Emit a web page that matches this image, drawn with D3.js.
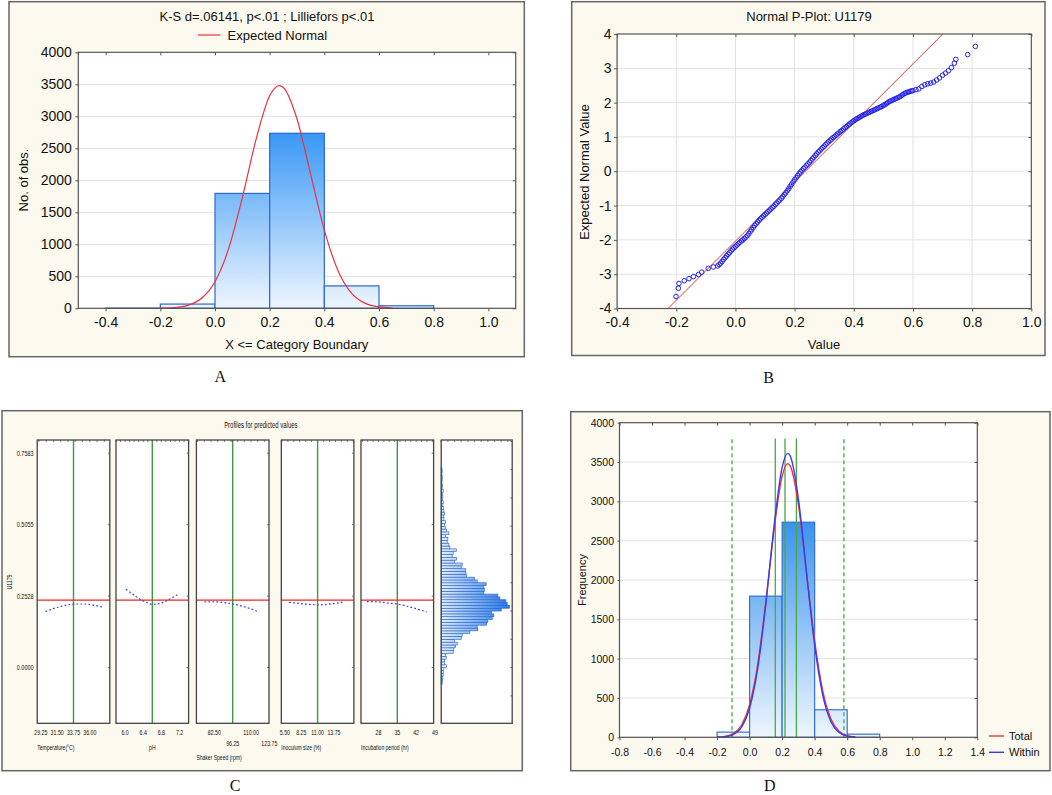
<!DOCTYPE html>
<meta charset="utf-8">
<style>
body { margin: 0; background: #fff; }
text { font-family: "Liberation Sans", Arial, sans-serif; fill: #111; }
</style>
<body>
<script src="https://d3js.org/d3.v7.min.js"></script>
<script>

// ---------- data ----------
// histogram bins shared by A and D (bin width 0.2)
var binStart  = [-0.4, -0.2, 0.0, 0.2, 0.4, 0.6, 0.8];
var binCounts = [3, 66, 1795, 2735, 350, 40, 0];

// expected normal curves
var normX      = [-0.2, -0.15, -0.1, -0.05, 0.0, 0.05, 0.1, 0.15, 0.2, 0.235, 0.25, 0.3, 0.35, 0.4, 0.45, 0.5, 0.55, 0.6, 0.65];
var normTotal  = [3, 12, 46, 153, 416, 932, 1728, 2635, 3320, 3480, 3450, 2958, 2092, 1222, 588, 234, 77, 21, 5];
var normWithin = [2, 8, 35, 126, 369, 878, 1700, 2678, 3432, 3610, 3577, 3033, 2091, 1172, 534, 198, 60, 15, 3];

var histXTicks = [-0.4, -0.2, 0.0, 0.2, 0.4, 0.6, 0.8, 1.0];
var countTicks = [0, 500, 1000, 1500, 2000, 2500, 3000, 3500, 4000];

// normal probability plot
var ppValue = [-0.201, -0.193, -0.191, -0.173, -0.157, -0.142, -0.125, -0.114, -0.092, -0.075,
  -0.06, -0.05, -0.04, -0.03, -0.02, -0.01, 0.0, 0.01, 0.02, 0.03, 0.04, 0.05, 0.06, 0.07, 0.08, 0.09,
  0.10, 0.11, 0.12, 0.13, 0.14, 0.15, 0.16, 0.17, 0.18, 0.19, 0.20, 0.21, 0.22, 0.23, 0.24, 0.25,
  0.26, 0.27, 0.28, 0.29, 0.30, 0.31, 0.32, 0.33, 0.34, 0.35, 0.36, 0.37, 0.38, 0.39, 0.40, 0.41,
  0.42, 0.43, 0.44, 0.45, 0.46, 0.47, 0.48, 0.49, 0.50, 0.51, 0.52, 0.53, 0.54, 0.55, 0.56, 0.57,
  0.58, 0.59, 0.60, 0.61, 0.62, 0.63, 0.64, 0.65, 0.66, 0.67, 0.68, 0.69, 0.70, 0.71, 0.72, 0.73,
  0.74, 0.745, 0.785, 0.811];
var ppZ = [-3.65, -3.41, -3.27, -3.19, -3.13, -3.07, -3.01, -2.94, -2.83, -2.79,
  -2.76, -2.68, -2.57, -2.47, -2.37, -2.27, -2.19, -2.11, -2.03, -1.96, -1.88, -1.76, -1.64, -1.53, -1.43, -1.34,
  -1.26, -1.18, -1.10, -1.02, -0.93, -0.84, -0.74, -0.63, -0.51, -0.38, -0.25, -0.13, -0.02, 0.08, 0.17, 0.26,
  0.36, 0.46, 0.56, 0.65, 0.73, 0.82, 0.90, 0.98, 1.05, 1.12, 1.19, 1.27, 1.34, 1.41, 1.47, 1.53,
  1.58, 1.63, 1.67, 1.71, 1.75, 1.79, 1.83, 1.87, 1.92, 1.97, 2.03, 2.07, 2.11, 2.15, 2.20, 2.26,
  2.30, 2.33, 2.35, 2.38, 2.40, 2.47, 2.52, 2.55, 2.57, 2.60, 2.66, 2.72, 2.80, 2.86, 2.93, 3.02,
  3.15, 3.26, 3.40, 3.64];
var ppValueMid = [-0.055, -0.045, -0.035, -0.025, -0.015, -0.005, 0.005, 0.015, 0.025, 0.035, 0.045, 0.055,
  0.065, 0.075, 0.085, 0.095, 0.105, 0.115, 0.125, 0.135, 0.145, 0.155, 0.165, 0.175, 0.185, 0.195,
  0.205, 0.215, 0.225, 0.235, 0.245, 0.255, 0.265, 0.275, 0.285, 0.295, 0.305, 0.315, 0.325, 0.335,
  0.345, 0.355, 0.365, 0.375, 0.385, 0.395, 0.405, 0.415, 0.425, 0.435, 0.445, 0.455, 0.465, 0.475,
  0.485, 0.495, 0.505, 0.515, 0.525, 0.535, 0.545, 0.555, 0.565, 0.575, 0.585, 0.595];
var ppZMid = [-2.72, -2.63, -2.52, -2.42, -2.32, -2.23, -2.15, -2.07, -2.00, -1.92, -1.82, -1.70,
  -1.58, -1.48, -1.38, -1.30, -1.22, -1.14, -1.06, -0.97, -0.88, -0.79, -0.68, -0.57, -0.44, -0.31,
  -0.19, -0.07, 0.03, 0.12, 0.21, 0.31, 0.41, 0.51, 0.60, 0.69, 0.78, 0.86, 0.94, 1.01,
  1.09, 1.16, 1.23, 1.30, 1.37, 1.44, 1.50, 1.55, 1.60, 1.65, 1.69, 1.73, 1.77, 1.81,
  1.85, 1.89, 1.94, 2.00, 2.05, 2.09, 2.13, 2.17, 2.23, 2.28, 2.31, 2.34];
var refLineValue = [-0.228, 0.701];
var refLineZ = [-4, 4];
var ppXTicks = [-0.4, -0.2, 0.0, 0.2, 0.4, 0.6, 0.8, 1.0];
var ppYTicks = [-4, -3, -2, -1, 0, 1, 2, 3, 4];

// profiles for predicted values
var factorNames = ["Temperature(°C)", "pH", "Shaker Speed (rpm)", "Inoculum size (%)", "Incubation period (hr)"];
var factorTicks = [[29.25, 31.5, 33.75, 36.0], [6.0, 6.4, 6.8, 7.2], [82.5, 96.25, 110.0, 123.75], [5.5, 8.25, 11.0, 13.75], [28, 35, 42, 49]];
var factorTickLabels = [["29.25", "31.50", "33.75", "36.00"], ["6.0", "6.4", "6.8", "7.2"], ["82.50", "96.25", "110.00", "123.75"], ["5.50", "8.25", "11.00", "13.75"], ["28", "35", "42", "49"]];
var factorCurrent = [33.75, 6.6, 96.25, 11.0, 35];
var profileX = [
  [29.9, 30.8, 31.8, 32.6, 33.4, 34.4, 35.3, 36.5, 37.7],
  [6.02, 6.15, 6.3, 6.45, 6.6, 6.75, 6.9, 7.05, 7.18],
  [75, 80, 86, 91, 96.5, 102, 107, 112, 116],
  [6.2, 7.5, 8.75, 10, 11, 12.25, 13.5, 14.5, 15.55],
  [23.7, 26.5, 29.5, 32, 35, 38, 41, 43.5, 45.9]
];
var profileY = [
  [0.198, 0.207, 0.215, 0.220, 0.224, 0.225, 0.225, 0.221, 0.214],
  [0.277, 0.262, 0.245, 0.232, 0.224, 0.226, 0.235, 0.248, 0.261],
  [0.232, 0.233, 0.232, 0.229, 0.225, 0.219, 0.212, 0.204, 0.196],
  [0.231, 0.228, 0.225, 0.223, 0.222, 0.223, 0.226, 0.229, 0.233],
  [0.233, 0.233, 0.231, 0.228, 0.225, 0.219, 0.211, 0.204, 0.197]
];
var predictedMean = 0.2384;
var profileYTicks = [0.0, 0.2528, 0.5055, 0.7583];
var profileYLabels = ["0.0000", "0.2528", "0.5055", "0.7583"];

// histogram of predicted values (bin width 0.01)
var histLo = [-0.06, -0.05, -0.04, -0.03, -0.02, -0.01, 0.00, 0.01, 0.02, 0.03, 0.04, 0.05, 0.06, 0.07, 0.08, 0.09,
  0.10, 0.11, 0.12, 0.13, 0.14, 0.15, 0.16, 0.17, 0.18, 0.19, 0.20, 0.21, 0.22, 0.23, 0.24, 0.25, 0.26, 0.27, 0.28, 0.29,
  0.30, 0.31, 0.32, 0.33, 0.34, 0.35, 0.36, 0.37, 0.38, 0.39, 0.40, 0.41, 0.42, 0.43, 0.44, 0.45, 0.46, 0.47, 0.48, 0.49,
  0.50, 0.51, 0.52, 0.53, 0.54, 0.55, 0.56, 0.57, 0.58, 0.59, 0.60, 0.61, 0.62, 0.63, 0.64, 0.65, 0.66, 0.67, 0.68, 0.69, 0.70];
var histCounts = [3, 4, 5, 6, 6, 8, 16, 10, 10, 15, 13, 36, 38, 43, 48, 40,
  60, 63, 86, 110, 108, 136, 140, 153, 158, 151, 180, 205, 198, 194, 176, 170, 128, 130, 128, 135,
  108, 100, 76, 74, 73, 60, 63, 40, 46, 33, 36, 46, 26, 23, 18, 20, 13, 23, 16, 13,
  10, 13, 8, 8, 10, 8, 7, 5, 6, 4, 5, 4, 6, 3, 4, 2, 3, 3, 2, 3, 2];

// panel D: specification / mean lines
var specX = [-0.108, 0.158, 0.2176, 0.2876, 0.580];
var specDashed = [true, false, false, false, true];
var specTop = 3800;
var dXTicks = [-0.8, -0.6, -0.4, -0.2, 0.0, 0.2, 0.4, 0.6, 0.8, 1.0, 1.2, 1.4];

// ---------- drawing ----------
var svg = d3.select("body").append("svg")
    .attr("width", 1052)
    .attr("height", 795)
    .style("display", "block");

svg.append("rect").attr("width", 1052).attr("height", 795).attr("fill", "#fff");

var defs = svg.append("defs");

function frame(x0, y0, x1, y1) {
  svg.append("rect")
    .attr("x", x0).attr("y", y0)
    .attr("width", x1 - x0).attr("height", y1 - y0)
    .attr("fill", "#fcf9ee")
    .attr("stroke", "#666")
    .attr("stroke-width", 1.5);
}

function plotBg(x, y) {
  svg.append("rect")
    .attr("x", x.range()[0]).attr("y", y.range()[1])
    .attr("width", x.range()[1] - x.range()[0])
    .attr("height", y.range()[0] - y.range()[1])
    .attr("fill", "#fff");
}

function plotBorder(x, y) {
  svg.append("rect")
    .attr("x", x.range()[0]).attr("y", y.range()[1])
    .attr("width", x.range()[1] - x.range()[0])
    .attr("height", y.range()[0] - y.range()[1])
    .attr("fill", "none")
    .attr("stroke", "#555")
    .attr("stroke-width", 1.2);
}

function styleAxis(g, size) {
  g.select(".domain").remove();
  g.selectAll("line").attr("stroke", "#555");
  g.selectAll("text").attr("font-size", size).attr("fill", "#111")
    .style("font-family", "'Liberation Sans', Arial, sans-serif");
}

function fmt1(d) { return d.toFixed(1); }
function fmtInt(d) { return String(d); }

function label(x, y, txt, size, rotate, family) {
  var t = svg.append("text")
    .attr("x", x).attr("y", y)
    .attr("text-anchor", "middle")
    .attr("dominant-baseline", "central")
    .attr("font-size", size)
    .text(txt);
  if (rotate) t.attr("transform", "rotate(-90," + x + "," + y + ")");
  if (family) t.style("font-family", family);
  return t;
}

var serif = "'Liberation Serif', 'Times New Roman', serif";

// ===== Panel A =====
frame(9, 1.7, 524.3, 356.7);
var xA = d3.scaleLinear().domain([-0.5, 1.1]).range([78.3, 515.7]);
var yA = d3.scaleLinear().domain([0, 4000]).range([308.3, 52.3]);
plotBg(xA, yA);

svg.append("g").selectAll("line")
  .data(countTicks.slice(1, -1)).enter().append("line")
    .attr("x1", xA.range()[0]).attr("x2", xA.range()[1])
    .attr("y1", function(d) { return yA(d); }).attr("y2", function(d) { return yA(d); })
    .attr("stroke", "#e2e2e2");

var gradA = defs.append("linearGradient").attr("id", "gradA")
  .attr("gradientUnits", "userSpaceOnUse")
  .attr("x1", 0).attr("x2", 0).attr("y1", yA(2735)).attr("y2", yA(0));
gradA.append("stop").attr("offset", 0).attr("stop-color", "#3a98f6");
gradA.append("stop").attr("offset", 1).attr("stop-color", "#eef6fe");

svg.append("g").selectAll("rect")
  .data(binStart).enter().append("rect")
    .attr("x", function(d) { return xA(d); })
    .attr("width", function(d) { return xA(d + 0.2) - xA(d); })
    .attr("y", function(d, i) { return yA(binCounts[i]); })
    .attr("height", function(d, i) { return yA(0) - yA(binCounts[i]); })
    .attr("fill", "url(#gradA)")
    .attr("stroke", "#2a66d6")
    .attr("stroke-width", 1.2);

var lineA = d3.line()
  .x(function(d, i) { return xA(normX[i]); })
  .y(function(d) { return yA(d); })
  .curve(d3.curveMonotoneX);
svg.append("path").attr("d", lineA(normTotal))
  .attr("fill", "none").attr("stroke", "#e8353a").attr("stroke-width", 1.2);

plotBorder(xA, yA);

styleAxis(svg.append("g").attr("transform", "translate(" + xA.range()[0] + ",0)")
  .call(d3.axisLeft(yA).tickValues(countTicks).tickFormat(fmtInt).tickSize(3).tickPadding(3.5)), "14px");
styleAxis(svg.append("g").attr("transform", "translate(0," + yA.range()[0] + ")")
  .call(d3.axisBottom(xA).tickValues(histXTicks).tickFormat(fmt1).tickSize(3).tickPadding(6)), "14px");
styleAxis(svg.append("g").attr("transform", "translate(0," + yA.range()[1] + ")")
  .call(d3.axisBottom(xA).tickValues(histXTicks).tickFormat("").tickSize(3)), "0px");
styleAxis(svg.append("g").attr("transform", "translate(" + xA.range()[1] + ",0)")
  .call(d3.axisLeft(yA).tickValues(countTicks).tickFormat("").tickSize(3)), "0px");

label(267, 16.7, "K-S d=.06141, p<.01 ; Lilliefors p<.01", "13px");
svg.append("line").attr("x1", 197.8).attr("x2", 220.4).attr("y1", 35).attr("y2", 35)
  .attr("stroke", "#e8353a").attr("stroke-width", 1.2);
svg.append("text").attr("x", 227.5).attr("y", 35).attr("dominant-baseline", "central")
  .attr("font-size", "13px").text("Expected Normal");
label(296.8, 344.3, "X <= Category Boundary", "13px");
label(23.7, 180, "No. of obs.", "13px", true);
label(220.4, 376.7, "A", "16px", false, serif);

// ===== Panel B =====
frame(571.7, 1.7, 1045, 355.5);
var xB = d3.scaleLinear().domain([-0.4, 1.0]).range([617.1, 1031.3]);
var yB = d3.scaleLinear().domain([-4, 4]).range([308.5, 34]);
plotBg(xB, yB);

svg.append("g").selectAll("line")
  .data(ppXTicks.slice(1, -1)).enter().append("line")
    .attr("x1", function(d) { return xB(d); }).attr("x2", function(d) { return xB(d); })
    .attr("y1", yB.range()[0]).attr("y2", yB.range()[1])
    .attr("stroke", "#e2e2e2");
svg.append("g").selectAll("line")
  .data(ppYTicks.slice(1, -1)).enter().append("line")
    .attr("x1", xB.range()[0]).attr("x2", xB.range()[1])
    .attr("y1", function(d) { return yB(d); }).attr("y2", function(d) { return yB(d); })
    .attr("stroke", "#e2e2e2");

svg.append("line")
  .attr("x1", xB(refLineValue[0])).attr("y1", yB(refLineZ[0]))
  .attr("x2", xB(refLineValue[1])).attr("y2", yB(refLineZ[1]))
  .attr("stroke", "#e8353a").attr("stroke-width", 1);

var allPV = ppValue.concat(ppValueMid);
var allPZ = ppZ.concat(ppZMid);
svg.append("g").selectAll("circle")
  .data(allPV).enter().append("circle")
    .attr("cx", function(d) { return xB(d); })
    .attr("cy", function(d, i) { return yB(allPZ[i]); })
    .attr("r", 2.3)
    .attr("fill", "none")
    .attr("stroke", "#2424e8")
    .attr("stroke-width", 1);

plotBorder(xB, yB);

styleAxis(svg.append("g").attr("transform", "translate(" + xB.range()[0] + ",0)")
  .call(d3.axisLeft(yB).tickValues(ppYTicks).tickFormat(fmtInt).tickSize(3).tickPadding(2.5)), "14px");
styleAxis(svg.append("g").attr("transform", "translate(0," + yB.range()[0] + ")")
  .call(d3.axisBottom(xB).tickValues(ppXTicks).tickFormat(fmt1).tickSize(3).tickPadding(6)), "14px");
styleAxis(svg.append("g").attr("transform", "translate(0," + yB.range()[1] + ")")
  .call(d3.axisBottom(xB).tickValues(ppXTicks).tickFormat("").tickSize(3)), "0px");
styleAxis(svg.append("g").attr("transform", "translate(" + xB.range()[1] + ",0)")
  .call(d3.axisLeft(yB).tickValues(ppYTicks).tickFormat("").tickSize(3)), "0px");

label(809, 16.7, "Normal P-Plot: U1179", "13px");
label(824, 344.3, "Value", "13px");
label(584.8, 172, "Expected Normal Value", "13px", true);
label(768.7, 377.7, "B", "16px", false, serif);

// ===== Panel C =====
frame(2, 410.7, 522.3, 770.7);

function narrowText(x, y, txt, size, anchor, sx) {
  return svg.append("text")
    .attr("transform", "translate(" + x + "," + y + ") scale(" + sx + ",1)")
    .attr("text-anchor", anchor)
    .attr("dominant-baseline", "central")
    .attr("font-size", size)
    .text(txt);
}

narrowText(260.8, 425, "Profiles for predicted values", "8.5px", "middle", 0.7);

var panelLeft = [37.2, 116, 196.4, 281.3, 361];
var panelW = 72.6;
var factorDomain = [[28.75, 38.75], [5.8, 7.4], [69, 123.5], [4.9, 17.1], [21.5, 48.5]];
var yC = d3.scaleLinear().domain([-0.197, 0.805]).range([723.3, 440]);

factorNames.forEach(function(name, i) {
  var x = d3.scaleLinear().domain(factorDomain[i]).range([panelLeft[i], panelLeft[i] + panelW]);
  svg.append("rect")
    .attr("x", panelLeft[i]).attr("y", 440).attr("width", panelW).attr("height", 283.3)
    .attr("fill", "#fff");
  // top ticks
  svg.append("g").selectAll("line").data(x.ticks(14)).enter().append("line")
    .attr("x1", function(d) { return x(d); }).attr("x2", function(d) { return x(d); })
    .attr("y1", 440).attr("y2", 442).attr("stroke", "#555").attr("stroke-width", 0.8);
  // right ticks
  svg.append("g").selectAll("line").data(profileYTicks).enter().append("line")
    .attr("x1", panelLeft[i] + panelW - 2).attr("x2", panelLeft[i] + panelW)
    .attr("y1", function(d) { return yC(d); }).attr("y2", function(d) { return yC(d); })
    .attr("stroke", "#555").attr("stroke-width", 0.8);
  // current level (green) and predicted mean (red)
  svg.append("line")
    .attr("x1", x(factorCurrent[i])).attr("x2", x(factorCurrent[i]))
    .attr("y1", 440).attr("y2", 723.3)
    .attr("stroke", "#3c9b3c").attr("stroke-width", 1.4);
  svg.append("line")
    .attr("x1", panelLeft[i]).attr("x2", panelLeft[i] + panelW)
    .attr("y1", yC(predictedMean)).attr("y2", yC(predictedMean))
    .attr("stroke", "#f02424").attr("stroke-width", 1.2);
  // profile (blue dotted)
  var line = d3.line()
    .x(function(d, j) { return x(profileX[i][j]); })
    .y(function(d) { return yC(d); })
    .curve(d3.curveMonotoneX);
  svg.append("path").attr("d", line(profileY[i]))
    .attr("fill", "none").attr("stroke", "#3340e6").attr("stroke-width", 1.2)
    .attr("stroke-dasharray", "1.8,2.2");
  svg.append("rect")
    .attr("x", panelLeft[i]).attr("y", 440).attr("width", panelW).attr("height", 283.3)
    .attr("fill", "none").attr("stroke", "#444").attr("stroke-width", 1.3);
  // tick labels
  factorTicks[i].forEach(function(t, j) {
    var row2 = (i === 2 && j % 2 === 1);
    narrowText(x(t), row2 ? 743 : 732.3, factorTickLabels[i][j], "7px", "middle", 0.75);
  });
  if (name === "pH") {
    narrowText(panelLeft[i] + panelW / 2, 747.3, name, "7px", "middle", 0.72);
  } else {
    narrowText(panelLeft[i], i === 2 ? 757.3 : 747.3, name, "7px", "start", 0.72);
  }
});

// y labels of the profiles
profileYTicks.forEach(function(t, j) {
  narrowText(33.5, yC(t), profileYLabels[j], "7px", "end", 0.78);
});
svg.append("text")
  .attr("transform", "translate(10,582) rotate(-90) scale(0.8,1)")
  .attr("text-anchor", "middle").attr("dominant-baseline", "central")
  .attr("font-size", "6.5px").text("U1179");

// histogram of predicted values
var xH = d3.scaleLinear().domain([0, 213]).range([441.2, 512.2]);
var gradH = defs.append("linearGradient").attr("id", "gradH")
  .attr("gradientUnits", "userSpaceOnUse")
  .attr("x1", xH(0)).attr("x2", xH(205)).attr("y1", 0).attr("y2", 0);
gradH.append("stop").attr("offset", 0).attr("stop-color", "#e2effd");
gradH.append("stop").attr("offset", 1).attr("stop-color", "#1f78ea");

svg.append("rect").attr("x", xH(0)).attr("y", 440).attr("width", xH(213) - xH(0)).attr("height", 283.3)
  .attr("fill", "#fff");
svg.append("g").selectAll("line").data(xH.ticks(14)).enter().append("line")
  .attr("x1", function(d) { return xH(d); }).attr("x2", function(d) { return xH(d); })
  .attr("y1", 440).attr("y2", 442).attr("stroke", "#555").attr("stroke-width", 0.8);
svg.append("g").selectAll("line").data(yC.ticks(10)).enter().append("line")
  .attr("x1", xH(213) - 2).attr("x2", xH(213))
  .attr("y1", function(d) { return yC(d); }).attr("y2", function(d) { return yC(d); })
  .attr("stroke", "#555").attr("stroke-width", 0.8);
svg.append("g").selectAll("rect").data(histLo).enter().append("rect")
  .attr("x", xH(0))
  .attr("y", function(d) { return yC(d + 0.01); })
  .attr("height", function(d) { return yC(d) - yC(d + 0.01); })
  .attr("width", function(d, i) { return xH(histCounts[i]) - xH(0); })
  .attr("fill", "url(#gradH)")
  .attr("stroke", "#2a60c8")
  .attr("stroke-width", 0.6);
svg.append("rect").attr("x", xH(0)).attr("y", 440).attr("width", xH(213) - xH(0)).attr("height", 283.3)
  .attr("fill", "none").attr("stroke", "#444").attr("stroke-width", 1.3);

label(235, 785, "C", "16px", false, serif);

// ===== Panel D =====
frame(570.7, 411.7, 1050, 770.7);
var xD = d3.scaleLinear().domain([-0.8, 1.4]).range([619.5, 977.3]);
var yD = d3.scaleLinear().domain([0, 4000]).range([737.3, 422.7]);
plotBg(xD, yD);

svg.append("g").selectAll("line")
  .data(countTicks.slice(1, -1)).enter().append("line")
    .attr("x1", xD.range()[0]).attr("x2", xD.range()[1])
    .attr("y1", function(d) { return yD(d); }).attr("y2", function(d) { return yD(d); })
    .attr("stroke", "#e2e2e2");

var gradD = defs.append("linearGradient").attr("id", "gradD")
  .attr("gradientUnits", "userSpaceOnUse")
  .attr("x1", 0).attr("x2", 0).attr("y1", yD(2735)).attr("y2", yD(0));
gradD.append("stop").attr("offset", 0).attr("stop-color", "#3a93ee");
gradD.append("stop").attr("offset", 1).attr("stop-color", "#eef6fe");

// D shows only the bins from -0.2 to 0.8
svg.append("g").selectAll("rect")
  .data(binStart.slice(1, 6)).enter().append("rect")
    .attr("x", function(d) { return xD(d); })
    .attr("width", function(d) { return xD(d + 0.2) - xD(d); })
    .attr("y", function(d, i) { return yD(binCounts[i + 1]); })
    .attr("height", function(d, i) { return yD(0) - yD(binCounts[i + 1]); })
    .attr("fill", "url(#gradD)")
    .attr("stroke", "#2a66d6")
    .attr("stroke-width", 1.1);

svg.append("g").selectAll("line")
  .data(specX).enter().append("line")
    .attr("x1", function(d) { return xD(d); }).attr("x2", function(d) { return xD(d); })
    .attr("y1", yD(0)).attr("y2", yD(specTop))
    .attr("stroke", "#4aa84a").attr("stroke-width", 1.3)
    .attr("stroke-dasharray", function(d, i) { return specDashed[i] ? "4,3" : null; });

var lineD = d3.line()
  .x(function(d, i) { return xD(normX[i]); })
  .y(function(d) { return yD(d); })
  .curve(d3.curveMonotoneX);
svg.append("path").attr("d", lineD(normTotal))
  .attr("fill", "none").attr("stroke", "#e8353a").attr("stroke-width", 1.4);
svg.append("path").attr("d", lineD(normWithin))
  .attr("fill", "none").attr("stroke", "#3b3bea").attr("stroke-width", 1.4);

plotBorder(xD, yD);

styleAxis(svg.append("g").attr("transform", "translate(" + xD.range()[0] + ",0)")
  .call(d3.axisLeft(yD).tickValues(countTicks).tickFormat(fmtInt).tickSize(2).tickPadding(3.5)), "10.5px");
styleAxis(svg.append("g").attr("transform", "translate(0," + yD.range()[0] + ")")
  .call(d3.axisBottom(xD).tickValues(dXTicks).tickFormat(fmt1).tickSize(3).tickPadding(8)), "10.5px");
styleAxis(svg.append("g").attr("transform", "translate(0," + yD.range()[1] + ")")
  .call(d3.axisBottom(xD).tickValues(dXTicks).tickFormat("").tickSize(3)), "0px");
styleAxis(svg.append("g").attr("transform", "translate(" + xD.range()[1] + ",0)")
  .call(d3.axisLeft(yD).tickValues(countTicks).tickFormat("").tickSize(3)), "0px");

label(581.5, 580, "Frequency", "11px", true);

// legend
[["Total", "#e8353a", 736], ["Within", "#3b3bea", 752.3]].forEach(function(l) {
  svg.append("line").attr("x1", 988.9).attr("x2", 1004).attr("y1", l[2]).attr("y2", l[2])
    .attr("stroke", l[1]).attr("stroke-width", 1.4);
  svg.append("text").attr("x", 1009).attr("y", l[2]).attr("dominant-baseline", "central")
    .attr("font-size", "11px").text(l[0]);
});

label(769.7, 785, "D", "16px", false, serif);

</script>
</body>
